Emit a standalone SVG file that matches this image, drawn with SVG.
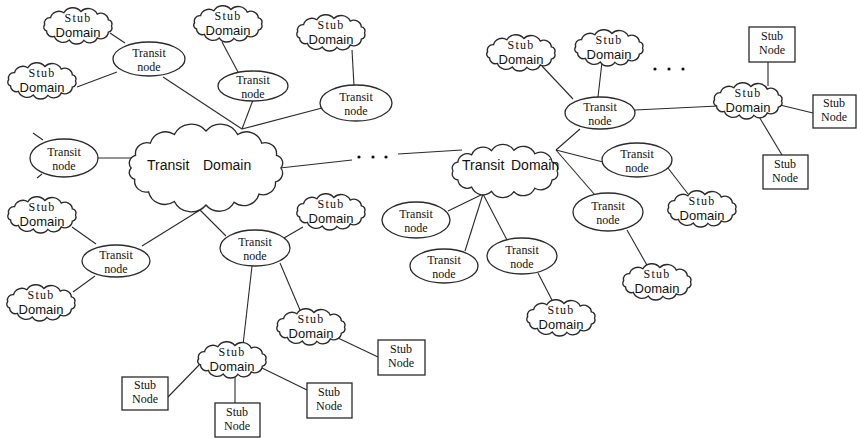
<svg xmlns="http://www.w3.org/2000/svg" xmlns:xlink="http://www.w3.org/1999/xlink" width="857" height="439" viewBox="0 0 857 439">
  <style>
    .edge { stroke: #2a2a2a; stroke-width: 1.1; fill: none; }
    .shape { fill: #ffffff; stroke: #2a2a2a; stroke-width: 1.3; }
    .serif { font-family: "Liberation Serif", "Times New Roman", serif; font-size: 12px; fill: #111; text-anchor: middle; }
    .sans { font-family: "Liberation Sans", Arial, sans-serif; font-size: 13px; fill: #111; text-anchor: middle; }
    .big { font-family: "Liberation Sans", Arial, sans-serif; font-size: 14px; fill: #111; }
    .stub { letter-spacing: 1.2px; }
    .dot { fill: #111; }
  </style>
  <defs>
    <!-- small wavy cloud used for every stub domain, centred on 0,0 -->
    <path id="stubCloud" transform="scale(1.08,1.04)" d="M31,0 A4,4 0 0 1 28.1,5.9 A7,7 0 0 1 17.8,11.5 A7.5,7.5 0 0 1 5.4,13.8 A8,8 0 0 1 -8,13.5 A8.6,8.6 0 0 1 -21.9,9.9 A5.3,5.3 0 0 1 -29.1,4.8 A3.8,3.8 0 0 1 -30.9,-1.2 A5.2,5.2 0 0 1 -25.4,-8 A7.9,7.9 0 0 1 -13.1,-12.7 A9.5,9.5 0 0 1 2.7,-13.9 A9.2,9.2 0 0 1 17.8,-11.5 A7,7 0 0 1 28.1,-5.9 A4,4 0 0 1 31,0 Z"/>
  </defs>
  <rect width="857" height="439" fill="#ffffff"/>

  <!-- connectors -->
  <g id="connectors" class="edge">
    <!-- left transit domain -->
    <line x1="163" y1="77" x2="242" y2="129"/>
    <line x1="253" y1="100" x2="242" y2="129"/>
    <line x1="322" y1="108" x2="242" y2="129"/>
    <line x1="110" y1="33" x2="125" y2="43"/>
    <line x1="77" y1="87" x2="117" y2="72"/>
    <line x1="222" y1="42" x2="238" y2="72"/>
    <line x1="352" y1="50" x2="354" y2="86"/>
    <line x1="98" y1="158" x2="134" y2="158"/>
    <line x1="33" y1="133" x2="43" y2="140"/>
    <line x1="37" y1="178" x2="42" y2="174"/>
    <line x1="142" y1="246" x2="200" y2="210"/>
    <line x1="200" y1="210" x2="226" y2="236"/>
    <line x1="72" y1="227" x2="96" y2="244"/>
    <line x1="73" y1="292" x2="95" y2="276"/>
    <line x1="303" y1="227" x2="284" y2="238"/>
    <line x1="280" y1="263" x2="300" y2="310"/>
    <line x1="252" y1="266" x2="243" y2="345"/>
    <line x1="201" y1="363" x2="168" y2="397"/>
    <line x1="235" y1="374" x2="235" y2="403"/>
    <line x1="262" y1="368" x2="307" y2="390"/>
    <line x1="338" y1="338" x2="378" y2="357"/>
    <!-- link between the two transit domains -->
    <line x1="280" y1="168" x2="352" y2="160"/>
    <line x1="398" y1="154" x2="462" y2="150"/>
    <!-- right transit domain -->
    <line x1="556" y1="150" x2="580" y2="129"/>
    <line x1="556" y1="150" x2="603" y2="162"/>
    <line x1="556" y1="150" x2="595" y2="195"/>
    <line x1="483" y1="194" x2="448" y2="211"/>
    <line x1="483" y1="194" x2="465" y2="251"/>
    <line x1="483" y1="194" x2="507" y2="240"/>
    <line x1="538" y1="273" x2="553" y2="302"/>
    <line x1="542" y1="66" x2="573" y2="99"/>
    <line x1="602" y1="62" x2="598" y2="97"/>
    <line x1="635" y1="110" x2="718" y2="106"/>
    <line x1="768" y1="62" x2="768" y2="86"/>
    <line x1="780" y1="105" x2="813" y2="113"/>
    <line x1="758" y1="115" x2="782" y2="155"/>
    <line x1="668" y1="168" x2="688" y2="194"/>
    <line x1="627" y1="230" x2="648" y2="267"/>
  </g>

  <!-- ellipsis marks -->
  <g id="dots">
    <circle class="dot" cx="359" cy="157" r="1.6"/>
    <circle class="dot" cx="373" cy="157" r="1.6"/>
    <circle class="dot" cx="386" cy="157" r="1.6"/>
    <circle class="dot" cx="655" cy="69" r="1.6"/>
    <circle class="dot" cx="669" cy="69" r="1.6"/>
    <circle class="dot" cx="683" cy="69" r="1.6"/>
  </g>

  <!-- transit domains -->
  <g id="transitDomainLeft">
    <path class="shape" transform="translate(206,168) scale(1.04,1)" d="M72,0 A9,9 0 0 1 66.8,13.9 A12,12 0 0 1 50.9,26.2 A15,15 0 0 1 27,34.3 A16,16 0 0 1 0,37 A18,18 0 0 1 -30.4,33.5 A16,16 0 0 1 -55.2,23.8 A11,11 0 0 1 -68.5,11.4 A7,7 0 0 1 -72,0 A8,8 0 0 1 -67.7,-12.7 A11,11 0 0 1 -53.5,-24.8 A15,15 0 0 1 -30.4,-33.5 A18,18 0 0 1 0,-37 A18,18 0 0 1 30.4,-33.5 A15,15 0 0 1 53.5,-24.8 A11,11 0 0 1 67.7,-12.7 A8,8 0 0 1 72,0 Z"/>
    <text class="big" x="147" y="170">Transit</text>
    <text class="big" x="203" y="170">Domain</text>
  </g>
  <g id="transitDomainRight">
    <path class="shape" transform="translate(505,171)" d="M52,0 A6,6 0 0 1 47.1,8.9 A11.5,11.5 0 0 1 29.8,17.2 A12.7,12.7 0 0 1 9,20.7 A13.5,13.5 0 0 1 -13.5,20.3 A12.2,12.2 0 0 1 -33.4,16.1 A9.3,9.3 0 0 1 -47.1,8.9 A6,6 0 0 1 -52,0 A6,6 0 0 1 -47.1,-8.9 A9.3,9.3 0 0 1 -33.4,-16.1 A12.2,12.2 0 0 1 -13.5,-20.3 A13.5,13.5 0 0 1 9,-20.7 A12.7,12.7 0 0 1 29.8,-17.2 A11.5,11.5 0 0 1 47.1,-8.9 A6,6 0 0 1 52,0 Z"/>
    <text class="big" x="462" y="170">Transit</text>
    <text class="big" x="511" y="170">Domain</text>
  </g>

  <!-- transit nodes -->
  <g id="tnA"><ellipse class="shape" cx="149" cy="59" rx="36" ry="17"/><text class="serif" x="149" y="57">Transit</text><text class="serif" x="149" y="71">node</text></g>
  <g id="tnB"><ellipse class="shape" cx="253" cy="86" rx="35" ry="15"/><text class="serif" x="253" y="84">Transit</text><text class="serif" x="253" y="98">node</text></g>
  <g id="tnC"><ellipse class="shape" cx="356" cy="103" rx="36" ry="18"/><text class="serif" x="356" y="101">Transit</text><text class="serif" x="356" y="115">node</text></g>
  <g id="tnD"><ellipse class="shape" cx="64" cy="158" rx="34" ry="19"/><text class="serif" x="64" y="156">Transit</text><text class="serif" x="64" y="170">node</text></g>
  <g id="tnE"><ellipse class="shape" cx="116" cy="261" rx="34" ry="16"/><text class="serif" x="116" y="259">Transit</text><text class="serif" x="116" y="273">node</text></g>
  <g id="tnF"><ellipse class="shape" cx="255" cy="248" rx="35" ry="18"/><text class="serif" x="255" y="246">Transit</text><text class="serif" x="255" y="260">node</text></g>
  <g id="tnG"><ellipse class="shape" cx="600" cy="113" rx="35" ry="16"/><text class="serif" x="600" y="111">Transit</text><text class="serif" x="600" y="125">node</text></g>
  <g id="tnH"><ellipse class="shape" cx="637" cy="160" rx="35" ry="17"/><text class="serif" x="637" y="158">Transit</text><text class="serif" x="637" y="172">node</text></g>
  <g id="tnI"><ellipse class="shape" cx="608" cy="212" rx="35" ry="19"/><text class="serif" x="608" y="210">Transit</text><text class="serif" x="608" y="224">node</text></g>
  <g id="tnJ"><ellipse class="shape" cx="416" cy="220" rx="34" ry="18"/><text class="serif" x="416" y="218">Transit</text><text class="serif" x="416" y="232">node</text></g>
  <g id="tnK"><ellipse class="shape" cx="444" cy="266" rx="34" ry="17"/><text class="serif" x="444" y="264">Transit</text><text class="serif" x="444" y="278">node</text></g>
  <g id="tnL"><ellipse class="shape" cx="522" cy="256" rx="35" ry="18"/><text class="serif" x="522" y="254">Transit</text><text class="serif" x="522" y="268">node</text></g>

  <!-- stub domains -->
  <g id="sd1"><use href="#stubCloud" class="shape" x="78" y="26"/><text class="serif stub" x="78" y="22">Stub</text><text class="sans" x="78" y="37">Domain</text></g>
  <g id="sd2"><use href="#stubCloud" class="shape" x="42" y="81"/><text class="serif stub" x="42" y="77">Stub</text><text class="sans" x="42" y="92">Domain</text></g>
  <g id="sd3"><use href="#stubCloud" class="shape" x="228" y="24"/><text class="serif stub" x="228" y="20">Stub</text><text class="sans" x="228" y="35">Domain</text></g>
  <g id="sd4"><use href="#stubCloud" class="shape" x="331" y="33"/><text class="serif stub" x="331" y="29">Stub</text><text class="sans" x="331" y="44">Domain</text></g>
  <g id="sd5"><use href="#stubCloud" class="shape" x="42" y="215"/><text class="serif stub" x="42" y="211">Stub</text><text class="sans" x="42" y="226">Domain</text></g>
  <g id="sd6"><use href="#stubCloud" class="shape" x="41" y="303"/><text class="serif stub" x="41" y="299">Stub</text><text class="sans" x="41" y="314">Domain</text></g>
  <g id="sd7"><use href="#stubCloud" class="shape" x="331" y="212"/><text class="serif stub" x="331" y="208">Stub</text><text class="sans" x="331" y="223">Domain</text></g>
  <g id="sd8"><use href="#stubCloud" class="shape" x="311" y="327"/><text class="serif stub" x="311" y="323">Stub</text><text class="sans" x="311" y="338">Domain</text></g>
  <g id="sd9"><use href="#stubCloud" class="shape" x="232" y="360"/><text class="serif stub" x="232" y="356">Stub</text><text class="sans" x="232" y="371">Domain</text></g>
  <g id="sd10"><use href="#stubCloud" class="shape" x="521" y="53"/><text class="serif stub" x="521" y="49">Stub</text><text class="sans" x="521" y="64">Domain</text></g>
  <g id="sd11"><use href="#stubCloud" class="shape" x="609" y="48"/><text class="serif stub" x="609" y="44">Stub</text><text class="sans" x="609" y="59">Domain</text></g>
  <g id="sd12"><use href="#stubCloud" class="shape" x="748" y="101"/><text class="serif stub" x="748" y="97">Stub</text><text class="sans" x="748" y="112">Domain</text></g>
  <g id="sd13"><use href="#stubCloud" class="shape" x="702" y="209"/><text class="serif stub" x="702" y="205">Stub</text><text class="sans" x="702" y="220">Domain</text></g>
  <g id="sd14"><use href="#stubCloud" class="shape" x="657" y="282"/><text class="serif stub" x="657" y="278">Stub</text><text class="sans" x="657" y="293">Domain</text></g>
  <g id="sd15"><use href="#stubCloud" class="shape" x="561" y="318"/><text class="serif stub" x="561" y="314">Stub</text><text class="sans" x="561" y="329">Domain</text></g>

  <!-- stub nodes -->
  <g id="sn1"><rect class="shape" x="122" y="377" width="46" height="33"/><text class="serif" x="145" y="389">Stub</text><text class="serif" x="145" y="403">Node</text></g>
  <g id="sn2"><rect class="shape" x="215" y="403" width="45" height="34"/><text class="serif" x="237" y="416">Stub</text><text class="serif" x="237" y="430">Node</text></g>
  <g id="sn3"><rect class="shape" x="307" y="383" width="45" height="35"/><text class="serif" x="329" y="396">Stub</text><text class="serif" x="329" y="410">Node</text></g>
  <g id="sn4"><rect class="shape" x="378" y="340" width="47" height="35"/><text class="serif" x="401" y="353">Stub</text><text class="serif" x="401" y="367">Node</text></g>
  <g id="sn5"><rect class="shape" x="749" y="27" width="46" height="35"/><text class="serif" x="772" y="40">Stub</text><text class="serif" x="772" y="54">Node</text></g>
  <g id="sn6"><rect class="shape" x="813" y="95" width="43" height="33"/><text class="serif" x="834" y="107">Stub</text><text class="serif" x="834" y="121">Node</text></g>
  <g id="sn7"><rect class="shape" x="763" y="155" width="45" height="34"/><text class="serif" x="785" y="168">Stub</text><text class="serif" x="785" y="182">Node</text></g>
</svg>
